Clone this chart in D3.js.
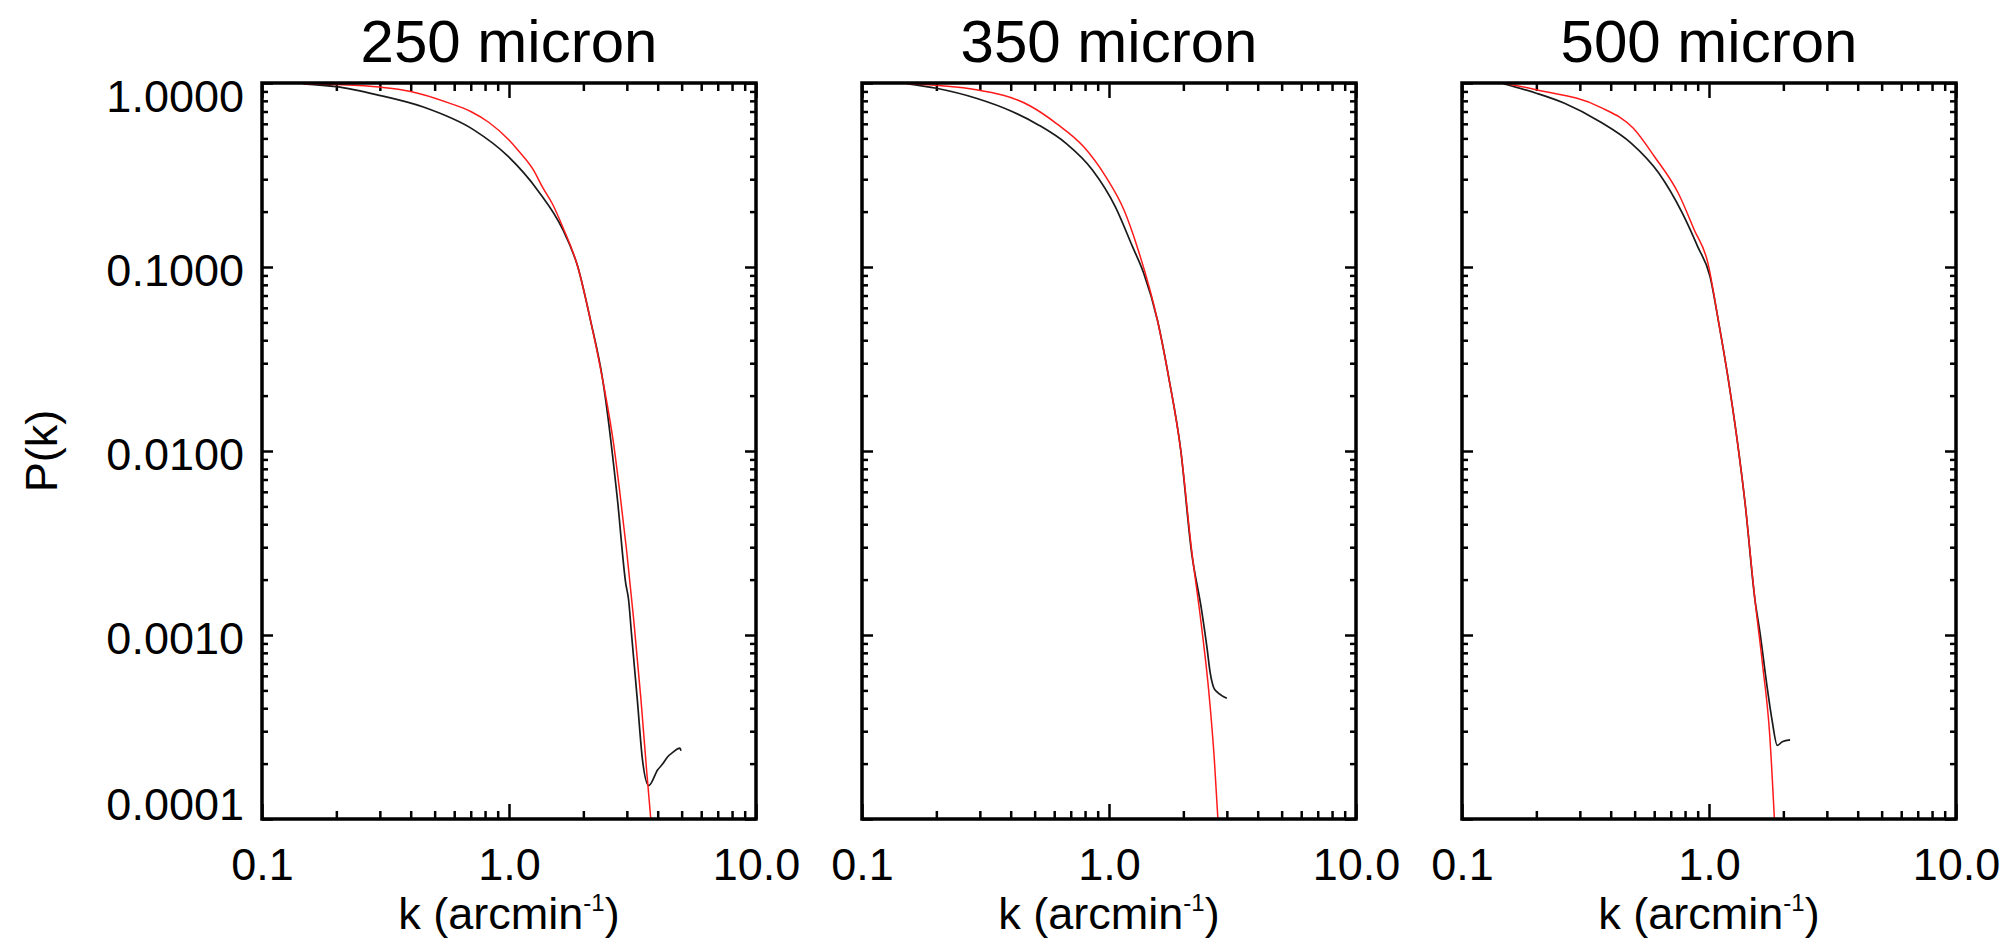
<!DOCTYPE html>
<html>
<head>
<meta charset="utf-8">
<script src="https://cdn.jsdelivr.net/npm/d3@7"></script>
<style>
  body { margin: 0; background: #fff; }
  svg { display: block; font-family: "Liberation Sans", Arial, Helvetica, sans-serif; }
</style>
</head>
<body>
<svg id="chart" width="2016" height="944"></svg>
<script>
// ---- data ----
const panelTitles = ["250 micron", "350 micron", "500 micron"];

const kMajor = [0.1, 1, 10];
const kMajorLabels = ["0.1", "1.0", "10.0"];
const kMinor = [0.2, 0.3, 0.4, 0.5, 0.6, 0.7, 0.8, 0.9, 2, 3, 4, 5, 6, 7, 8, 9];
const pMajor = [1, 0.1, 0.01, 0.001, 0.0001];
const pMajorLabels = ["1.0000", "0.1000", "0.0100", "0.0010", "0.0001"];
const pMinor = [];
[0.0001, 0.001, 0.01, 0.1].forEach(dec => {
  for (let m = 2; m <= 9; m++) pMinor.push(dec * m);
});

// 250 micron
const k250Black = [0.147, 0.2, 0.295, 0.45, 0.72, 0.99, 1.31, 1.65, 1.9, 2.14, 2.4, 2.75, 2.97, 3.05, 3.13, 3.31, 3.47, 3.68, 4.0, 4.2, 4.39, 4.6, 4.92, 4.97];
const p250Black = [0.99, 0.955, 0.86, 0.74, 0.556, 0.40, 0.26, 0.16, 0.1, 0.051, 0.024, 0.0054, 0.0019, 0.00155, 0.00103, 0.00044, 0.00021, 0.000152, 0.000185, 0.0002, 0.000218, 0.00023, 0.000243, 0.000235];
const k250Red = [0.148, 0.2, 0.3, 0.4, 0.57, 0.7, 0.83, 1.0, 1.09, 1.25, 1.37, 1.5, 1.65, 1.9, 2.14, 2.4, 2.65, 2.8, 3.0, 3.2, 3.42, 3.6, 3.75];
const p250Red = [0.99, 0.98, 0.95, 0.9, 0.78, 0.70, 0.61, 0.49, 0.43, 0.34, 0.27, 0.22, 0.165, 0.1, 0.051, 0.024, 0.011, 0.0062, 0.0028, 0.0012, 0.00045, 0.00019, 0.0001];

// 350 micron
const k350Black = [0.154, 0.2, 0.29, 0.405, 0.52, 0.67, 0.857, 1.06, 1.245, 1.38, 1.57, 1.75, 1.95, 2.16, 2.37, 2.49, 2.57, 2.65, 2.73, 2.85, 3.0];
const p350Black = [0.99, 0.936, 0.826, 0.70, 0.59, 0.47, 0.337, 0.213, 0.129, 0.093, 0.0515, 0.0246, 0.0102, 0.0028, 0.00137, 0.000865, 0.00062, 0.00052, 0.000492, 0.00047, 0.000453];
const k350Red = [0.152, 0.29, 0.48, 0.615, 0.79, 0.97, 1.15, 1.3, 1.57, 1.75, 1.95, 2.16, 2.37, 2.54, 2.67, 2.76];
const p350Red = [0.99, 0.92, 0.75, 0.60, 0.45, 0.31, 0.204, 0.129, 0.0515, 0.0246, 0.0102, 0.0029, 0.00111, 0.00048, 0.00021, 0.0001];

// 500 micron
const k500Black = [0.147, 0.2, 0.26, 0.362, 0.485, 0.627, 0.78, 0.9, 1.01, 1.09, 1.2, 1.3, 1.4, 1.535, 1.61, 1.71, 1.8, 1.89, 1.98, 2.13];
const p500Black = [0.99, 0.88, 0.776, 0.616, 0.47, 0.323, 0.196, 0.129, 0.0886, 0.0515, 0.024, 0.0115, 0.0052, 0.00155, 0.00102, 0.00055, 0.000345, 0.000251, 0.000263, 0.000269];
const k500Red = [0.147, 0.2, 0.362, 0.494, 0.6, 0.753, 0.87, 0.99, 1.09, 1.2, 1.3, 1.4, 1.535, 1.65, 1.76, 1.84];
const p500Red = [1.0, 0.92, 0.74, 0.567, 0.40, 0.25, 0.16, 0.105, 0.0515, 0.024, 0.0115, 0.0052, 0.00155, 0.00068, 0.00029, 0.0001];

const panels = [
  { title: panelTitles[0], black: [k250Black, p250Black], red: [k250Red, p250Red] },
  { title: panelTitles[1], black: [k350Black, p350Black], red: [k350Red, p350Red] },
  { title: panelTitles[2], black: [k500Black, p500Black], red: [k500Red, p500Red] }
];

// ---- layout ----
const svg = d3.select("#chart");
const marginLeft = 262, marginTop = 83, pw = 494, ph = 736, gap = 106;
const font = 45;

const y = d3.scaleLog().domain([0.0001, 1]).range([ph, 0]);

function styleTicks(sel) {
  sel.select(".domain").remove();
  sel.selectAll(".tick line").attr("stroke", "#000").attr("stroke-width", 2.5);
}

panels.forEach((p, i) => {
  const x = d3.scaleLog().domain([0.1, 10]).range([0, pw]);
  const g = svg.append("g")
    .attr("transform", `translate(${marginLeft + i * (pw + gap)},${marginTop})`);

  g.append("clipPath").attr("id", `clip${i}`)
    .append("rect").attr("width", pw).attr("height", ph);

  // ticks, all pointing inward
  g.append("g").attr("transform", `translate(0,${ph})`)
    .call(d3.axisBottom(x).tickValues(kMajor).tickSize(-15).tickFormat("")).call(styleTicks);
  g.append("g").attr("transform", `translate(0,${ph})`)
    .call(d3.axisBottom(x).tickValues(kMinor).tickSize(-8).tickFormat("")).call(styleTicks);
  g.append("g")
    .call(d3.axisTop(x).tickValues(kMajor).tickSize(-15).tickFormat("")).call(styleTicks);
  g.append("g")
    .call(d3.axisTop(x).tickValues(kMinor).tickSize(-8).tickFormat("")).call(styleTicks);
  g.append("g")
    .call(d3.axisLeft(y).tickValues(pMajor).tickSize(-11).tickFormat("")).call(styleTicks);
  g.append("g")
    .call(d3.axisLeft(y).tickValues(pMinor).tickSize(-6).tickFormat("")).call(styleTicks);
  g.append("g").attr("transform", `translate(${pw},0)`)
    .call(d3.axisRight(y).tickValues(pMajor).tickSize(-11).tickFormat("")).call(styleTicks);
  g.append("g").attr("transform", `translate(${pw},0)`)
    .call(d3.axisRight(y).tickValues(pMinor).tickSize(-6).tickFormat("")).call(styleTicks);

  // x tick labels
  const xl = g.append("g").attr("transform", `translate(0,${ph})`)
    .call(d3.axisBottom(x).tickValues(kMajor).tickSize(0).tickPadding(29)
      .tickFormat((d, j) => kMajorLabels[j]));
  xl.select(".domain").remove();
  xl.selectAll("text").attr("font-size", font).attr("font-family", null).attr("fill", "#000");

  // y tick labels only on the first panel
  if (i === 0) {
    const yl = g.append("g")
      .call(d3.axisLeft(y).tickValues(pMajor).tickSize(0).tickPadding(18)
        .tickFormat((d, j) => pMajorLabels[j]));
    yl.select(".domain").remove();
    yl.selectAll("text")
      .attr("font-size", font).attr("font-family", null).attr("fill", "#000")
      .attr("dy", d => d === 1 ? "0.64em" : d === 0.0001 ? "0em" : "0.42em");

    g.append("text")
      .attr("transform", `translate(-205,${ph / 2}) rotate(-90)`)
      .attr("text-anchor", "middle")
      .attr("font-size", font)
      .text("P(k)");
  }

  // curves
  const line = d3.line().curve(d3.curveMonotoneX).x(d => x(d[0])).y(d => y(d[1]));
  const curves = g.append("g").attr("clip-path", `url(#clip${i})`);
  curves.append("path")
    .datum(p.black[0].map((k, j) => [k, p.black[1][j]]))
    .attr("fill", "none").attr("stroke", "#1a1a1a").attr("stroke-width", 1.7)
    .attr("d", line);
  curves.append("path")
    .datum(p.red[0].map((k, j) => [k, p.red[1][j]]))
    .attr("fill", "none").attr("stroke", "#ff1a1a").attr("stroke-width", 1.5)
    .attr("d", line);

  // frame
  g.append("rect")
    .attr("width", pw).attr("height", ph)
    .attr("fill", "none").attr("stroke", "#000").attr("stroke-width", 3.5);

  // title
  g.append("text")
    .attr("x", pw / 2).attr("y", -21)
    .attr("text-anchor", "middle")
    .attr("font-size", 60)
    .text(p.title);

  // x-axis title
  const xt = g.append("text")
    .attr("x", pw / 2).attr("y", ph + 110)
    .attr("text-anchor", "middle")
    .attr("font-size", font);
  xt.append("tspan").text("k (arcmin");
  xt.append("tspan").attr("font-size", 24).attr("dy", -18).text("-1");
  xt.append("tspan").attr("dy", 18).text(")");
});
</script>
</body>
</html>
